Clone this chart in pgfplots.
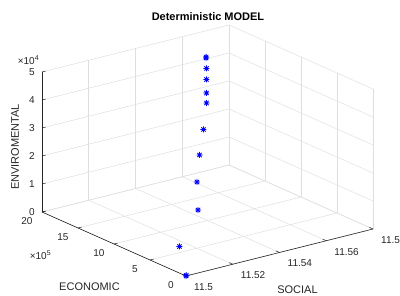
\documentclass[border=0pt]{standalone}
\usepackage{fontspec}
\setmainfont{Liberation Sans}
\usepackage{pgfplots}
\pgfplotsset{compat=1.18}
\definecolor{axc}{rgb}{0.15,0.15,0.15}
\definecolor{gridc}{rgb}{0.87,0.87,0.87}
\pgfdeclareplotmark{mstar}{%
 \pgfpathmoveto{\pgfqpoint{-\pgfplotmarksize}{0pt}}\pgfpathlineto{\pgfqpoint{\pgfplotmarksize}{0pt}}%
 \pgfpathmoveto{\pgfqpoint{0pt}{-\pgfplotmarksize}}\pgfpathlineto{\pgfqpoint{0pt}{\pgfplotmarksize}}%
 \pgfpathmoveto{\pgfqpoint{-0.707\pgfplotmarksize}{-0.707\pgfplotmarksize}}\pgfpathlineto{\pgfqpoint{0.707\pgfplotmarksize}{0.707\pgfplotmarksize}}%
 \pgfpathmoveto{\pgfqpoint{-0.707\pgfplotmarksize}{0.707\pgfplotmarksize}}\pgfpathlineto{\pgfqpoint{0.707\pgfplotmarksize}{-0.707\pgfplotmarksize}}%
 \pgfusepathqstroke}
\begin{document}
\begin{tikzpicture}
\begin{axis}[
  x={(23.375pt,5.875pt)}, y={(-7.2pt,3.2pt)}, z={(0pt,28pt)},
  xmin=0,xmax=8,ymin=0,ymax=20,zmin=0,zmax=5,
  x filter/.expression={(x-11.5)*100},
  y filter/.expression={y/100000},
  z filter/.expression={z/10000},
  xtick={0,2,4,6,8}, xticklabels={11.5,11.52,11.54,11.56,11.58},
  ytick={0,5,10,15,20}, ztick={0,1,2,3,4,5},
  grid=major, grid style={gridc, line width=0.5pt},
  axis line style={draw=none},
  major tick length=0pt,
  ticklabel style={font=\fontsize{10}{12}\selectfont, text=axc, inner sep=0pt},
  xticklabel style={anchor=west, xshift=8pt, yshift=-11pt},
  yticklabel style={anchor=center, xshift=-15pt, yshift=-9pt},
  zticklabel style={anchor=east, xshift=-7pt, yshift=0pt},
  /pgf/number format/assume math mode=true,
  clip=false,
]
\addplot3[only marks, mark=mstar, mark size=3pt, blue, line width=0.8pt] table {
x y z
11.5 0 0
11.5003 5000 150
11.50596 284000 6040
11.52282 574000 12220
11.53033 832000 17700
11.53881 1072000 22820
11.54740 1296000 27570
11.55591 1530000 32560
11.55872 1622000 34500
11.56251 1745000 37120
11.56560 1845000 39260
11.56838 1942000 41320
11.56870 1951000 41510
};
\coordinate (o) at (rel axis cs:0,0,0);
\draw[axc, line width=0.6pt] (rel axis cs:0,0,0) -- (rel axis cs:1,0,0);
\draw[axc, line width=0.6pt] (rel axis cs:0,0,0) -- (rel axis cs:0,1,0);
\draw[axc, line width=0.6pt] (rel axis cs:0,1,0) -- (rel axis cs:0,1,1);
\pgfplotsinvokeforeach{0,0.25,0.5,0.75,1}{
  \draw[axc, line width=0.5pt] (rel axis cs:#1,0,0) -- (rel axis cs:#1,0.025,0);
  \draw[axc, line width=0.5pt] (rel axis cs:0,#1,0) -- (rel axis cs:0.02,#1,0);
}
\pgfplotsinvokeforeach{0,0.2,0.4,0.6,0.8,1}{
  \draw[axc, line width=0.5pt] (rel axis cs:0,1,#1) -- (rel axis cs:0.02,1,#1);
}
\end{axis}
\node[font=\fontsize{11}{13}\selectfont\bfseries] at ([shift={(22pt,259pt)}]o) {Deterministic MODEL};
\node[font=\fontsize{11}{13}\selectfont, text=axc, rotate=90] at ([shift={(-171pt,129pt)}]o) {ENVIROMENTAL};
\node[font=\fontsize{11}{13}\selectfont, text=axc] at ([shift={(-96.5pt,-11pt)}]o) {ECONOMIC};
\node[font=\fontsize{11}{13}\selectfont, text=axc] at ([shift={(111.5pt,-14pt)}]o) {SOCIAL};
\node[font=\fontsize{10}{12}\selectfont, text=axc] at ([shift={(-145.5pt,21pt)}]o) {×10\textsuperscript{5}};
\node[font=\fontsize{10}{12}\selectfont, text=axc] at ([shift={(-157.5pt,216pt)}]o) {×10\textsuperscript{4}};
\pgfresetboundingbox
\path ([shift={(-186pt,-20pt)}]o) rectangle ([shift={(214pt,276pt)}]o);
\end{tikzpicture}
\end{document}
